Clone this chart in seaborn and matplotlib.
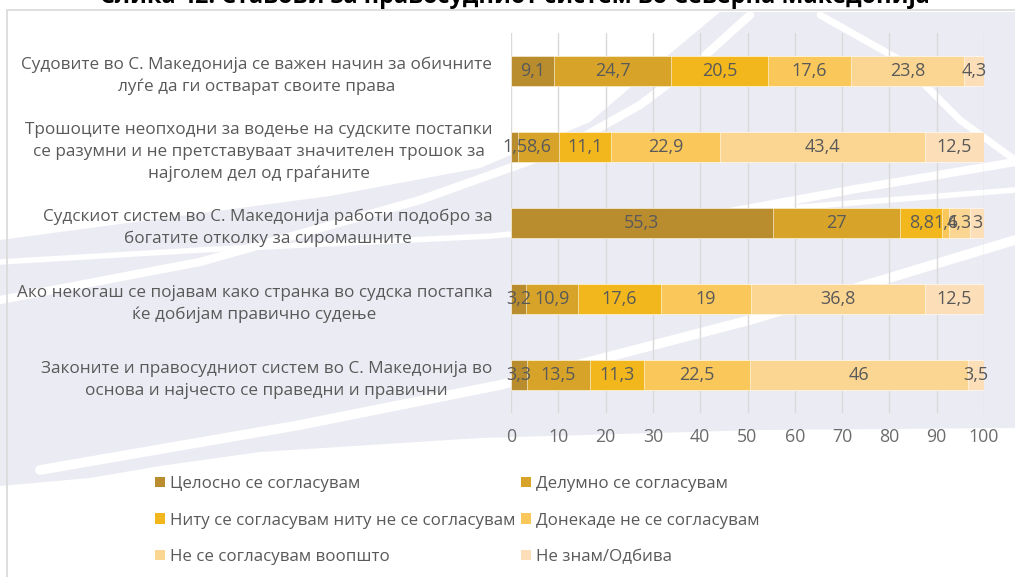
#!/usr/bin/env python3
"""Stacked horizontal bars: attitudes towards the judiciary in North Macedonia."""

import pandas as pd
import seaborn as sns
import matplotlib.pyplot as plt
from matplotlib.patches import Patch, PathPatch, Rectangle
from matplotlib.path import Path

# —— DATA —— #
STATEMENTS = [
    'Судовите во С. Македонија се важен начин за обичните\nлуѓе да ги остварат своите права',
    'Трошоците неопходни за водење на судските постапки\nсе разумни и не претставуваат значителен трошок за\nнајголем дел од граѓаните',
    'Судскиот систем во С. Македонија работи подобро за\nбогатите отколку за сиромашните',
    'Ако некогаш се појавам како странка во судска постапка\nќе добијам правично судење',
    'Законите и правосудниот систем во С. Македонија во\nоснова и најчесто се праведни и правични',
]
RESPONSES = [
    'Целосно се согласувам',
    'Делумно се согласувам',
    'Ниту се согласувам ниту не се согласувам',
    'Донекаде не се согласувам',
    'Не се согласувам воопшто',
    'Не знам/Одбива',
]
FULLY_AGREE    = [9.1, 1.5, 55.3, 3.2, 3.3]
PARTLY_AGREE   = [24.7, 8.6, 27, 10.9, 13.5]
NEUTRAL        = [20.5, 11.1, 8.8, 17.6, 11.3]
SOMEWHAT_NOT   = [17.6, 22.9, 1.6, 19, 22.5]
NOT_AT_ALL     = [23.8, 43.4, 4.3, 36.8, 46]
DONT_KNOW      = [4.3, 12.5, 3, 12.5, 3.5]
X_TICKS        = [0, 10, 20, 30, 40, 50, 60, 70, 80, 90, 100]
TITLE = 'Слика 42. Ставови за правосудниот систем во Северна Македонија'

COLORS = ['#B98D2D', '#D7A429', '#F2B71C', '#F9C75A', '#FBD592', '#FCDFB8']
TEXT_GREY = '#595959'
LAVENDER = '#EBEBF3'

W, H = 1015, 577

sns.set_theme(style='white')
plt.rcParams['font.family'] = ['Open Sans', 'DejaVu Sans']


def px(x, y):
    return (x / W, 1 - y / H)


def polyline(points):
    verts = [px(*p) for p in points]
    codes = [Path.MOVETO] + [Path.LINETO] * (len(verts) - 1)
    return Path(verts, codes)


# long-form table
series = [FULLY_AGREE, PARTLY_AGREE, NEUTRAL, SOMEWHAT_NOT, NOT_AT_ALL, DONT_KNOW]
df = pd.DataFrame({r: v for r, v in zip(RESPONSES, series)})
df['statement'] = STATEMENTS
cum = df[RESPONSES].cumsum(axis=1)

fig = plt.figure(figsize=(W / 100, H / 100), dpi=100)
fig.patch.set_facecolor('white')

# —— background swoosh (page decoration) —— #
lav = polyline([(0, 240), (150, 220), (330, 196), (480, 168), (590, 122),
                (660, 62), (720, 12), (1015, 12), (1015, 428), (760, 430),
                (480, 438), (260, 452), (160, 466), (90, 478), (0, 486), (0, 240)])
fig.add_artist(PathPatch(lav, transform=fig.transFigure, fc=LAVENDER, ec='none', zorder=0))
for pts, lw in [
    ([(0, 300), (200, 262), (420, 200), (560, 150), (640, 105), (700, 60), (750, 15)], 6),
    ([(0, 262), (200, 250), (492, 236), (700, 215), (1015, 190)], 4),
    ([(40, 470), (300, 425), (500, 385), (750, 320), (1015, 240)], 7),
    ([(730, 212), (850, 190), (1015, 162)], 6),
    ([(820, 15), (900, 60), (960, 120), (1015, 160)], 5),
]:
    fig.add_artist(PathPatch(polyline(pts), transform=fig.transFigure, fc='none',
                             ec='white', lw=lw, zorder=0.5, capstyle='round'))

# frame
fig.add_artist(Rectangle(px(7, 600), (1100 - 7) / W, 590 / H, transform=fig.transFigure,
                         fc='none', ec='#D9D9D9', lw=1.2, zorder=1))

ax = fig.add_axes([511 / W, 1 - 413 / H, (984 - 511) / W, (413 - 33) / H])
ax.set_zorder(2)
ax.patch.set_alpha(0)

# painter's stacking: widest cumulative bar first
for k in range(len(RESPONSES) - 1, -1, -1):
    sns.barplot(x=cum[RESPONSES[k]], y=df['statement'], orient='h',
                color=COLORS[k], saturation=1, width=0.39,
                edgecolor='white', linewidth=0.4, ax=ax, zorder=3)

# segment labels
for i in range(len(STATEMENTS)):
    for k, resp in enumerate(RESPONSES):
        v = df.loc[i, resp]
        center = cum.loc[i, resp] - v / 2
        txt = f'{v:g}'.replace('.', ',')
        ax.text(center, i, txt, ha='center', va='center', fontsize=13,
                color=TEXT_GREY, zorder=5)

ax.set_xlim(0, 100)
ax.set_ylim(4.5, -0.5)
ax.set_xticks(X_TICKS)
ax.set_xlabel('')
ax.set_ylabel('')
ax.grid(axis='x', color='#D9D9D9', lw=1, zorder=0)
ax.grid(axis='y', visible=False)
ax.set_axisbelow(True)
for s in ax.spines.values():
    s.set_visible(False)
ax.tick_params(axis='x', length=0, pad=11, labelsize=12.8, labelcolor='#6B6B6B')
ax.tick_params(axis='y', length=0, pad=13.5, labelsize=12.3, labelcolor=TEXT_GREY)
for t in ax.get_yticklabels():
    t.set_multialignment('center')
    t.set_linespacing(1.47)

# title (cut off at top, as in the source)
fig.text(0.507, 1 - 3 / H, TITLE, ha='center', va='baseline', fontsize=16.8,
         fontweight='bold', color='black')

# legend, row-major order in 2 columns
handles = [Patch(facecolor=c, edgecolor='none') for c in COLORS]
order = [0, 2, 4, 1, 3, 5]
fig.legend([handles[i] for i in order], [RESPONSES[i] for i in order],
           ncol=2, loc='upper left', bbox_to_anchor=px(155, 476),
           frameon=False, fontsize=12.2, labelcolor=TEXT_GREY,
           handlelength=0.6, handleheight=0.6, handletextpad=0.3,
           columnspacing=0.3, labelspacing=1.21, borderpad=0, borderaxespad=0)

fig.savefig('out.png', dpi=100)
